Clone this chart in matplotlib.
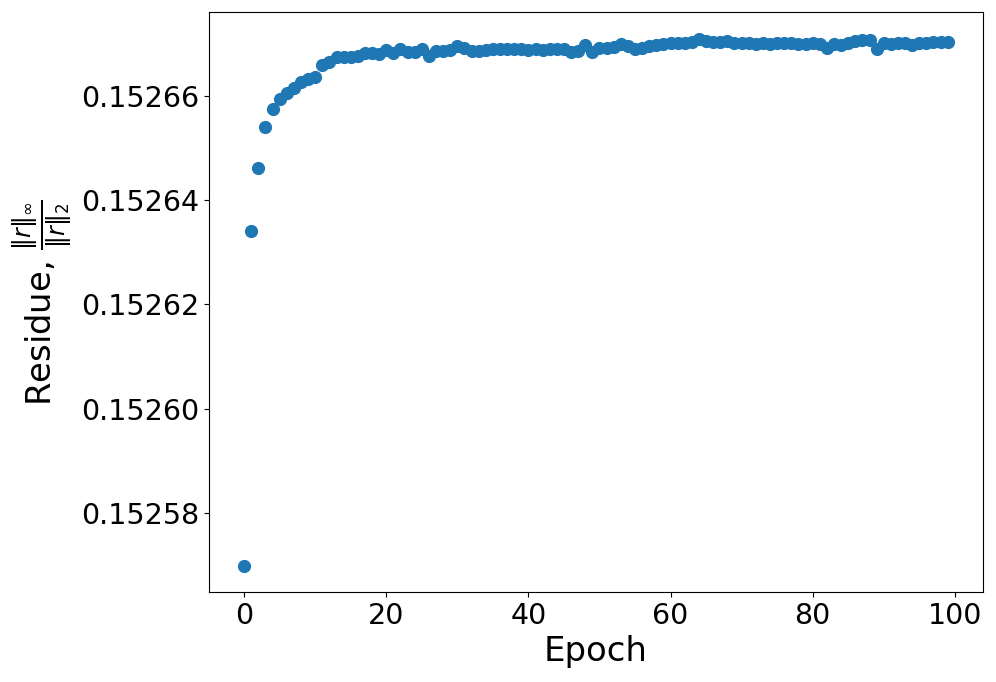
import numpy as np
import matplotlib
matplotlib.use('Agg')
from matplotlib import pyplot as plt

epochs = np.arange(100)
residue = [
    0.1525700, 0.1526341, 0.1526462, 0.1526539, 0.1526575, 0.1526593, 0.1526604, 0.1526615, 0.1526626, 0.1526632,
    0.1526636, 0.1526658, 0.1526664, 0.1526674, 0.1526673, 0.1526673, 0.1526675, 0.1526682, 0.1526682, 0.1526679,
    0.1526688, 0.1526681, 0.1526689, 0.1526684, 0.1526683, 0.1526690, 0.1526676, 0.1526686, 0.1526686, 0.1526688,
    0.1526695, 0.1526691, 0.1526686, 0.1526686, 0.1526687, 0.1526690, 0.1526689, 0.1526690, 0.1526689, 0.1526690,
    0.1526688, 0.1526689, 0.1526688, 0.1526689, 0.1526690, 0.1526689, 0.1526683, 0.1526686, 0.1526697, 0.1526684,
    0.1526691, 0.1526692, 0.1526693, 0.1526698, 0.1526694, 0.1526690, 0.1526692, 0.1526694, 0.1526696, 0.1526698,
    0.1526700, 0.1526701, 0.1526700, 0.1526702, 0.1526709, 0.1526704, 0.1526702, 0.1526703, 0.1526704, 0.1526701,
    0.1526700, 0.1526701, 0.1526698, 0.1526700, 0.1526699, 0.1526701, 0.1526700, 0.1526701, 0.1526698, 0.1526699,
    0.1526700, 0.1526698, 0.1526692, 0.1526699, 0.1526696, 0.1526700, 0.1526704, 0.1526707, 0.1526706, 0.1526690,
    0.1526700, 0.1526699, 0.1526700, 0.1526700, 0.1526697, 0.1526700, 0.1526701, 0.1526702, 0.1526702, 0.1526702,
]

fig = plt.figure(figsize=(9.96, 6.82), dpi=100)
ax = fig.add_axes([0.2098, 0.132, 0.777, 0.850])
ax.scatter(epochs, residue, s=72, color='#1f77b4')

ax.ticklabel_format(axis='y', useOffset=False)
ax.set_yticks([0.15258, 0.15260, 0.15262, 0.15264, 0.15266])
ax.tick_params(labelsize=20.5)
ax.set_xlabel('Epoch', fontsize=24.4)
ax.set_ylabel(r'Residue, $\frac{\|r\|_\infty}{\|r\|_2}$', fontsize=24.4)

plt.savefig('out.png', dpi=100)
